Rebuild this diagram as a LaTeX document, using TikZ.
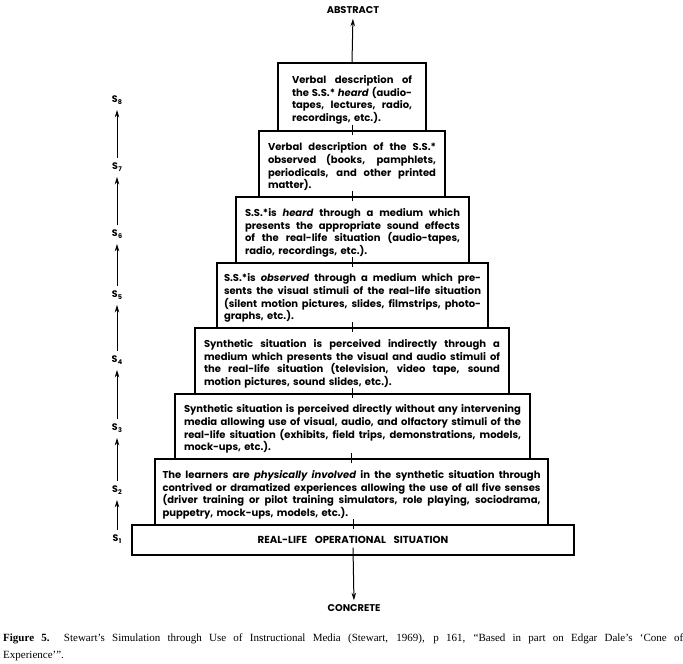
\documentclass[tikz,border=0pt]{standalone}
\usepackage{fontspec}
\setmainfont{Liberation Serif}
\newfontfamily\fut{Poppins}
\usetikzlibrary{arrows.meta}
\setlength{\parindent}{0pt}
\newlength\tw
\newlength\jlnat
% one justified line: spaces stretched when short, squeezed horizontally when long
\newcommand\jl[1]{{\spaceskip=0.28em plus 1fil\relax
  \settowidth\jlnat{#1}%
  \ifdim\jlnat>\tw
    \pgfmathsetmacro\jlsx{\tw/\jlnat}\scalebox{\jlsx}[1]{#1}%
  \else
    \makebox[\tw][s]{#1}%
  \fi}}
\newcommand\Ssub[1]{S\kern0.3pt\raisebox{-0.5ex}{\fontsize{6.5}{6.5}\selectfont #1}}
\begin{document}
\begin{tikzpicture}[x=1pt,y=-1pt,
  box/.style={draw, line width=1.1pt, align=left, inner ysep=0pt,
    font=\fut\bfseries\fontsize{10}{12.7}\selectfont},
  tw/.style={text width=#1, execute at begin node={\setlength\tw{#1}\rule{0pt}{13.5pt}}},
  tick/.style={line width=1pt},
  arr/.style={line width=1pt, -{Stealth[length=7.5pt,width=4.5pt]}},
  slab/.style={font=\fut\bfseries\fontsize{9.5}{9.5}\selectfont, inner sep=1pt},
  lbl/.style={font=\fut\bfseries\fontsize{9.8}{10}\selectfont, inner sep=1pt}]
\useasboundingbox (0,0) rectangle (683,664);

% boxes of the cone
\node[box, tw=120pt, inner xsep=14pt, minimum height=68pt] (b8) at (352,97)
  {\jl{Verbal description of}\\\jl{the S.S.* \textit{heard} (audio-}\\\jl{tapes, lectures, radio,}\\recordings, etc.).};
\node[box, tw=168pt, inner xsep=9pt, minimum height=66pt] (b7) at (352,164)
  {\jl{Verbal description of the S.S.*}\\\jl{observed (books, pamphlets,}\\\jl{periodicals, and other printed}\\matter).};
\node[box, tw=215pt, inner xsep=9pt, minimum height=66pt] (b6) at (352.5,230)
  {\jl{S.S.*is \textit{heard} through a medium which}\\\jl{presents the appropriate sound effects}\\\jl{of the real-life situation (audio-tapes,}\\radio, recordings, etc.).};
\node[box, tw=257pt, inner xsep=7pt, minimum height=65pt] (b5) at (352.5,295.5)
  {\jl{S.S.*is \textit{observed} through a medium which pre-}\\\jl{sents the visual stimuli of the real-life situation}\\\jl{(silent motion pictures, slides, filmstrips, photo-}\\graphs, etc.).};
\node[box, tw=296pt, inner xsep=9pt, minimum height=66pt] (b4) at (352,361)
  {\jl{Synthetic situation is perceived indirectly through a}\\\jl{medium which presents the visual and audio stimuli of}\\\jl{the real-life situation (television, video tape, sound}\\motion pictures, sound slides, etc.).};
\node[box, tw=337pt, inner xsep=9pt, minimum height=65pt] (b3) at (352.5,426.5)
  {\jl{Synthetic situation is perceived directly without any intervening}\\\jl{media allowing use of visual, audio, and olfactory stimuli of the}\\\jl{real-life situation (exhibits, field trips, demonstrations, models,}\\mock-ups, etc.).};
\node[box, tw=378pt, inner xsep=7.5pt, minimum height=66pt] (b2) at (351.5,492)
  {\jl{The learners are \textit{physically involved} in the synthetic situation through}\\\jl{contrived or dramatized experiences allowing the use of all five senses}\\\jl{(driver training or pilot training simulators, role playing, sociodrama,}\\puppetry, mock-ups, models, etc.).};
\node[box, align=center, minimum width=442pt, minimum height=30pt, inner xsep=0pt,
  font=\fut\bfseries\fontsize{10.2}{12}\selectfont] (b1) at (353,540)
  {REAL-LIFE\hspace{0.75em}OPERATIONAL\hspace{0.75em}SITUATION};

% ticks of the central line
\foreach \n in {b7,b6,b5,b4,b3,b2,b1}
  \draw[tick] ([yshift=5pt]\n.north) -- ([yshift=-5pt]\n.north);

% top and bottom labels and arrows
\node[lbl] (abs) at (353,10) {ABSTRACT};
\node[lbl] (con) at (354,608) {CONCRETE};
\draw[arr, shorten >=4pt] (b8.north) -- (abs.south);
\draw[arr, shorten >=3pt] ([yshift=8pt]b1.south) -- (con.north);

% S scale on the left
\node[slab] (s8) at (117,100) {\Ssub{8}};
\node[slab] (s7) at (117,167) {\Ssub{7}};
\node[slab] (s6) at (117,234) {\Ssub{6}};
\node[slab] (s5) at (117,295) {\Ssub{5}};
\node[slab] (s4) at (117,360) {\Ssub{4}};
\node[slab] (s3) at (117,428) {\Ssub{3}};
\node[slab] (s2) at (117,490) {\Ssub{2}};
\node[slab] (s1) at (117,539) {\Ssub{1}};
\foreach \a/\b in {s1/s2,s2/s3,s3/s4,s4/s5,s5/s6,s6/s7,s7/s8}
  \draw[arr, shorten <=3pt, shorten >=4pt] (\a.north) -- (\b.south);

% caption
\node[anchor=north west, inner sep=0pt, text width=680pt, align=left,
  font=\fontsize{11}{17}\selectfont] (cap) at (3,634)
  {{\spaceskip=0.25em plus 1fil\relax\makebox[680pt][s]{\textbf{Figure 5.}\hspace{1.3em}Stewart’s Simulation through Use of Instructional Media (Stewart, 1969), p 161, “Based in part on Edgar Dale’s ‘Cone of}}\\Experience’”.};
\end{tikzpicture}
\end{document}
